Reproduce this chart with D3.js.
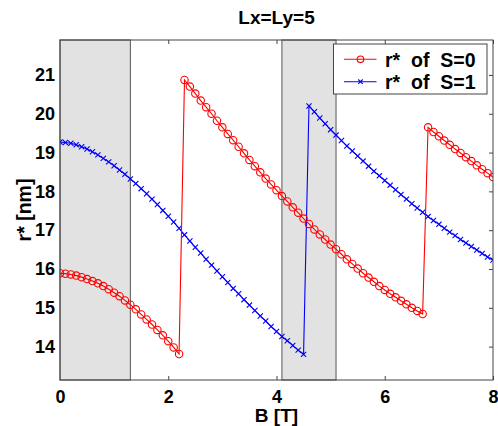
<!DOCTYPE html>
<html><head><meta charset="utf-8">
<script src="https://cdn.jsdelivr.net/npm/d3@7"></script>
<style>
html,body{margin:0;padding:0;background:#fff;}
svg text{font-family:"Liberation Sans",Arial,Helvetica,sans-serif;font-weight:bold;fill:#000;}
</style></head>
<body><svg id="chart" width="498" height="426"></svg>
<script>
const titleText = "Lx=Ly=5";
const xLabel = "B [T]";
const yLabel = "r* [nm]";
const xTicks = [0, 2, 4, 6, 8];
const yTicks = [14, 15, 16, 17, 18, 19, 20, 21];
const shadedBands = [[0, 1.3], [4.1, 5.1]];
const seriesNames = ["r*  of  S=0", "r*  of  S=1"];
const bValues = [0.0,0.1,0.2,0.3,0.4,0.5,0.6,0.7,0.8,0.9,1.0,1.1,1.2,1.3,1.4,1.5,1.6,1.7,1.8,1.9,
  2.0,2.1,2.2,2.3,2.4,2.5,2.6,2.7,2.8,2.9,3.0,3.1,3.2,3.3,3.4,3.5,3.6,3.7,3.8,3.9,
  4.0,4.1,4.2,4.3,4.4,4.5,4.6,4.7,4.8,4.9,5.0,5.1,5.2,5.3,5.4,5.5,5.6,5.7,5.8,5.9,
  6.0,6.1,6.2,6.3,6.4,6.5,6.6,6.7,6.8,6.9,7.0,7.1,7.2,7.3,7.4,7.5,7.6,7.7,7.8,7.9,8.0];
const rS0 = [15.89,15.88,15.86,15.83,15.79,15.74,15.69,15.63,15.56,15.48,15.39,15.30,15.19,15.08,14.96,14.83,14.70,14.57,14.43,14.29,14.14,13.98,13.81,
  20.87,20.70,20.52,20.34,20.17,20.00,19.82,19.65,19.48,19.32,19.15,18.98,18.81,18.65,18.49,18.33,18.18,18.03,17.88,17.74,17.59,17.45,17.30,
  17.16,17.02,16.89,16.76,16.63,16.51,16.38,16.25,16.13,16.01,15.89,15.78,15.67,15.56,15.46,15.36,15.27,15.18,15.09,15.00,14.92,14.84,
  19.65,19.53,19.42,19.31,19.20,19.09,18.99,18.88,18.78,18.67,18.57,18.47,18.37];
const rS1 = [19.27,19.26,19.24,19.20,19.15,19.09,19.02,18.94,18.85,18.76,18.66,18.55,18.44,18.32,18.20,18.07,17.94,17.80,17.66,17.51,17.36,17.21,17.05,
  16.88,16.72,16.56,16.41,16.25,16.10,15.95,15.80,15.65,15.50,15.36,15.21,15.07,14.93,14.79,14.66,14.52,14.39,14.26,14.15,14.03,13.91,13.80,
  20.20,20.05,19.89,19.74,19.59,19.45,19.31,19.17,19.04,18.91,18.78,18.65,18.52,18.40,18.28,18.16,18.04,17.92,17.80,17.68,17.57,17.46,17.35,
  17.25,17.15,17.05,16.95,16.86,16.76,16.67,16.58,16.49,16.40,16.31,16.23];

const L = 60, R = 493, T = 40, Bt = 380;
const svg = d3.select("#chart");
const x = d3.scaleLinear().domain([0, 8]).range([L, R]);
const y = d3.scaleLinear().domain([13.14, 21.9]).range([Bt, T]);
const fs = 18;

// ticks (inward) on all sides
const axB = svg.append("g").attr("transform", `translate(0,${Bt})`)
  .call(d3.axisBottom(x).tickValues(xTicks).tickFormat(d3.format("d")).tickSizeInner(-4).tickSizeOuter(0).tickPadding(10));
const axT = svg.append("g").attr("transform", `translate(0,${T})`)
  .call(d3.axisTop(x).tickValues(xTicks).tickFormat("").tickSizeInner(-4).tickSizeOuter(0));
const axL = svg.append("g").attr("transform", `translate(${L},0)`)
  .call(d3.axisLeft(y).tickValues(yTicks).tickFormat(d3.format("d")).tickSizeInner(-4).tickSizeOuter(0).tickPadding(5));
const axR = svg.append("g").attr("transform", `translate(${R},0)`)
  .call(d3.axisRight(y).tickValues(yTicks).tickFormat("").tickSizeInner(-4).tickSizeOuter(0));
[axB, axT, axL, axR].forEach(a => {
  a.select(".domain").remove();
  a.selectAll("line").attr("stroke", "#444");
  a.selectAll("text").attr("font-size", fs).attr("font-family", null).attr("fill", "#000");
});

// shaded bands
svg.append("g").selectAll("rect").data(shadedBands).join("rect")
  .attr("x", d => x(d[0])).attr("y", T)
  .attr("width", d => x(d[1]) - x(d[0])).attr("height", Bt - T)
  .attr("fill", "#e2e2e2").attr("stroke", "#555").attr("stroke-width", 1);

svg.append("defs").append("clipPath").attr("id", "pc")
  .append("rect").attr("x", L).attr("y", T).attr("width", R - L).attr("height", Bt - T);

const line = d3.line().x(d => x(d[0])).y(d => y(d[1]));
const d0 = bValues.map((b, i) => [b, rS0[i]]);
const d1 = bValues.map((b, i) => [b, rS1[i]]);
const plot = svg.append("g").attr("clip-path", "url(#pc)");

function drawX(g, cx, cy, s, color) {
  g.append("path").attr("d", `M${cx - s},${cy - s}L${cx + s},${cy + s}M${cx - s},${cy + s}L${cx + s},${cy - s}`)
    .attr("stroke", color).attr("stroke-width", 1.1).attr("fill", "none");
}

plot.append("path").datum(d1).attr("d", line).attr("fill", "none").attr("stroke", "#0000ff").attr("stroke-width", 1.1);
const gx = plot.append("g");
d1.forEach(d => drawX(gx, x(d[0]), y(d[1]), 2.6, "#0000ff"));

plot.append("path").datum(d0).attr("d", line).attr("fill", "none").attr("stroke", "#ff0000").attr("stroke-width", 1.1);
plot.append("g").selectAll("circle").data(d0).join("circle")
  .attr("cx", d => x(d[0])).attr("cy", d => y(d[1])).attr("r", 3.7)
  .attr("fill", "none").attr("stroke", "#ff0000").attr("stroke-width", 1.1);

// box
svg.append("rect").attr("x", L).attr("y", T).attr("width", R - L).attr("height", Bt - T)
  .attr("fill", "none").attr("stroke", "#444").attr("stroke-width", 1);

// title and labels
svg.append("text").attr("x", (L + R) / 2).attr("y", 24).attr("text-anchor", "middle").attr("font-size", 19).text(titleText);
svg.append("text").attr("x", (L + R) / 2).attr("y", 422).attr("text-anchor", "middle").attr("font-size", 19).text(xLabel);
svg.append("text").attr("transform", `translate(31,${(T + Bt) / 2}) rotate(-90)`).attr("text-anchor", "middle").attr("font-size", 19.5).text(yLabel);

// legend
const lg = svg.append("g");
lg.append("rect").attr("x", 333.5).attr("y", 44).attr("width", 153.5).attr("height", 50)
  .attr("fill", "#fff").attr("stroke", "#444").attr("stroke-width", 1);
const colors = ["#ff0000", "#0000ff"];
seriesNames.forEach((name, i) => {
  const yy = 59.3 + i * 22.4;
  lg.append("line").attr("x1", 344).attr("x2", 376.5).attr("y1", yy).attr("y2", yy)
    .attr("stroke", colors[i]).attr("stroke-width", 1.1);
  if (i === 0) {
    lg.append("circle").attr("cx", 360.5).attr("cy", yy).attr("r", 3.3).attr("fill", "none").attr("stroke", colors[i]).attr("stroke-width", 1.1);
  } else {
    drawX(lg, 360.5, yy, 2.2, colors[i]);
  }
  lg.append("text").attr("x", 385).attr("y", yy + 7.4).attr("font-size", 19.5).style("white-space", "pre").text(name);
});
</script></body></html>
